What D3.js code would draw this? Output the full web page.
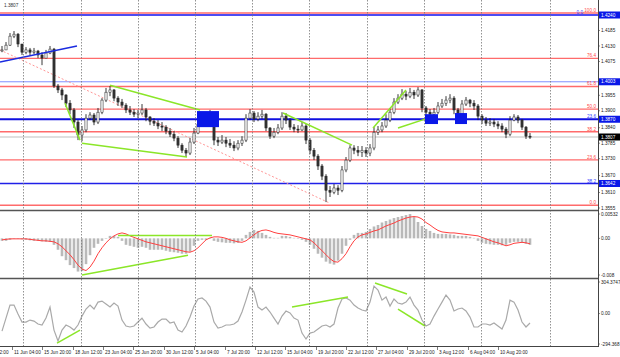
<!DOCTYPE html>
<html><head><meta charset="utf-8">
<script src="https://cdn.jsdelivr.net/npm/d3@7"></script>
<style>html,body{margin:0;padding:0;background:#fff;overflow:hidden}svg{display:block}text{font-family:"Liberation Sans",Arial,sans-serif}</style>
</head><body><svg id="c" width="620" height="357"></svg>
<script>
// ---------- data ----------
const closes=[1.4116,1.4133,1.4165,1.4172,1.4137,1.4108,1.4116,1.4108,1.4112,1.4098,
1.4087,1.4105,1.4119,1.3988,1.3974,1.3956,1.3927,1.3903,1.3860,1.3814,
1.3832,1.3874,1.3885,1.3860,1.3895,1.3938,1.3966,1.3974,1.3945,1.3931,
1.3920,1.3903,1.3895,1.3888,1.3892,1.3903,1.3878,1.3863,1.3856,1.3846,
1.3842,1.3828,1.3817,1.3803,1.3778,1.3760,1.3750,1.3789,1.3821,1.3853,
1.3867,1.3874,1.3881,1.3796,1.3789,1.3796,1.3785,1.3778,1.3768,1.3785,
1.3796,1.3874,1.3892,1.3871,1.3881,1.3888,1.3839,1.3810,1.3824,1.3839,
1.3881,1.3867,1.3842,1.3835,1.3832,1.3846,1.3796,1.3760,1.3739,1.3704,
1.3668,1.3618,1.3611,1.3626,1.3618,1.3690,1.3725,1.3768,1.3760,1.3753,
1.3760,1.3750,1.3768,1.3824,1.3832,1.3846,1.3867,1.3895,1.3931,1.3945,
1.3959,1.3952,1.3966,1.3956,1.3974,1.3910,1.3895,1.3888,1.3895,1.3917,
1.3927,1.3938,1.3945,1.3903,1.3881,1.3924,1.3938,1.3927,1.3917,1.3881,
1.3867,1.3856,1.3860,1.3853,1.3846,1.3835,1.3817,1.3867,1.3878,1.3867,
1.3842,1.3810,1.3807];
const highs=[1.4130,1.4144,1.4176,1.4183,1.4176,1.4137,1.4126,1.4123,1.4123,1.4116,
1.4108,1.4116,1.4130,1.4123,1.3995,1.3981,1.3959,1.3938,1.3910,1.3867,
1.3846,1.3888,1.3895,1.3892,1.3910,1.3945,1.3981,1.3988,1.3977,1.3952,
1.3942,1.3927,1.3917,1.3906,1.3903,1.3924,1.3910,1.3881,1.3874,1.3867,
1.3860,1.3849,1.3839,1.3828,1.3810,1.3785,1.3768,1.3803,1.3839,1.3867,
1.3888,1.3892,1.3903,1.3888,1.3807,1.3814,1.3807,1.3800,1.3792,1.3796,
1.3810,1.3888,1.3906,1.3899,1.3895,1.3903,1.3892,1.3842,1.3839,1.3853,
1.3895,1.3892,1.3874,1.3853,1.3849,1.3860,1.3853,1.3803,1.3768,1.3746,
1.3711,1.3675,1.3633,1.3640,1.3636,1.3704,1.3736,1.3778,1.3778,1.3775,
1.3775,1.3771,1.3782,1.3842,1.3846,1.3860,1.3888,1.3910,1.3945,1.3959,
1.3977,1.3970,1.3981,1.3974,1.3984,1.3977,1.3917,1.3906,1.3910,1.3931,
1.3942,1.3952,1.3959,1.3952,1.3910,1.3938,1.3949,1.3942,1.3938,1.3924,
1.3888,1.3878,1.3874,1.3871,1.3863,1.3856,1.3842,1.3881,1.3888,1.3885,
1.3871,1.3846,1.3821];
const lows=[1.4108,1.4116,1.4130,1.4158,1.4126,1.4098,1.4101,1.4098,1.4101,1.4087,
1.4062,1.4087,1.4101,1.3981,1.3963,1.3938,1.3913,1.3888,1.3839,1.3796,
1.3792,1.3824,1.3867,1.3849,1.3853,1.3888,1.3931,1.3952,1.3934,1.3917,
1.3910,1.3892,1.3885,1.3878,1.3874,1.3885,1.3863,1.3849,1.3846,1.3835,
1.3828,1.3817,1.3807,1.3792,1.3768,1.3750,1.3736,1.3743,1.3782,1.3817,
1.3849,1.3856,1.3863,1.3778,1.3775,1.3782,1.3771,1.3768,1.3757,1.3760,
1.3775,1.3789,1.3867,1.3860,1.3863,1.3871,1.3828,1.3800,1.3803,1.3817,
1.3832,1.3853,1.3832,1.3824,1.3821,1.3828,1.3782,1.3746,1.3725,1.3690,
1.3654,1.3576,1.3594,1.3604,1.3601,1.3611,1.3682,1.3718,1.3746,1.3739,
1.3736,1.3736,1.3739,1.3760,1.3814,1.3824,1.3839,1.3860,1.3888,1.3924,
1.3938,1.3938,1.3945,1.3942,1.3949,1.3895,1.3881,1.3874,1.3878,1.3888,
1.3910,1.3917,1.3927,1.3888,1.3867,1.3874,1.3917,1.3913,1.3903,1.3867,
1.3853,1.3846,1.3846,1.3842,1.3835,1.3824,1.3803,1.3810,1.3863,1.3856,
1.3832,1.3800,1.3800];
const macdHist=[-0.0005,-0.0005,-0.0003,-0.0001,-0.0001,-0.0002,-0.0003,-0.0004,-0.0005,-0.0005,
-0.0006,-0.0007,-0.0007,-0.0013,-0.0023,-0.0036,-0.0044,-0.0054,-0.0060,-0.0067,
-0.0066,-0.0052,-0.0034,-0.0019,-0.0011,-0.0005,-0.0001,0.0005,0.0005,0.0003,
-0.0005,-0.0013,-0.0015,-0.0017,-0.0019,-0.0017,-0.0019,-0.0023,-0.0023,-0.0023,
-0.0023,-0.0025,-0.0027,-0.0028,-0.0029,-0.0031,-0.0031,-0.0027,-0.0015,-0.0005,
-0.0003,-0.0003,-0.0001,-0.0005,-0.0007,-0.0008,-0.0009,-0.0009,-0.0010,-0.0009,
-0.0005,0.0007,0.0013,0.0017,0.0015,0.0011,0.0007,0.0003,0.0001,0.0001,
0.0005,0.0005,0.0003,0.0001,-0.0001,-0.0003,-0.0007,-0.0013,-0.0021,-0.0031,
-0.0039,-0.0047,-0.0051,-0.0053,-0.0045,-0.0031,-0.0015,-0.0003,0.0007,0.0011,
0.0011,0.0013,0.0019,0.0024,0.0027,0.0032,0.0035,0.0038,0.0041,0.0043,
0.0045,0.0047,0.0049,0.0043,0.0033,0.0025,0.0019,0.0015,0.0011,0.0009,
0.0009,0.0009,0.0008,0.0007,0.0005,0.0005,0.0005,0.0003,0.0001,-0.0005,
-0.0009,-0.0011,-0.0012,-0.0013,-0.0013,-0.0014,-0.0013,-0.0009,-0.0007,-0.0007,
-0.0009,-0.0011,-0.0013];
const macdSignal=[-0.0003,-0.0002,-0.0001,-0.0001,-0.0001,-0.0001,-0.0001,-0.0002,-0.0003,-0.0004,
-0.0005,-0.0005,-0.0006,-0.0007,-0.0011,-0.0017,-0.0025,-0.0033,-0.0043,-0.0054,
-0.0062,-0.0065,-0.0058,-0.0046,-0.0031,-0.0019,-0.0009,-0.0001,0.0005,0.0009,
0.0011,0.0009,0.0005,0.0002,-0.0001,-0.0004,-0.0007,-0.0009,-0.0011,-0.0013,
-0.0015,-0.0017,-0.0019,-0.0021,-0.0023,-0.0025,-0.0027,-0.0028,-0.0025,-0.0019,
-0.0011,-0.0003,0.0001,0.0003,0.0003,0.0002,0.0000,-0.0003,-0.0005,-0.0007,
-0.0008,-0.0005,0.0001,0.0007,0.0013,0.0016,0.0017,0.0015,0.0012,0.0010,
0.0009,0.0008,0.0007,0.0005,0.0003,0.0001,-0.0001,-0.0003,-0.0009,-0.0017,
-0.0025,-0.0033,-0.0041,-0.0047,-0.0048,-0.0041,-0.0031,-0.0017,-0.0005,0.0003,
0.0007,0.0009,0.0012,0.0015,0.0017,0.0021,0.0025,0.0028,0.0031,0.0035,
0.0038,0.0041,0.0043,0.0044,0.0043,0.0039,0.0032,0.0027,0.0021,0.0016,
0.0013,0.0012,0.0011,0.0011,0.0010,0.0009,0.0008,0.0007,0.0006,0.0005,
0.0002,-0.0001,-0.0004,-0.0007,-0.0009,-0.0012,-0.0015,-0.0013,-0.0010,-0.0009,
-0.0008,-0.0009,-0.0011];
const cci=[-159,-41,77,77,-5,-77,-77,-59,-68,-95,
-104,-41,59,-150,-249,-150,-104,-122,-150,-104,
-23,41,77,41,104,113,86,59,95,68,
-59,-113,-122,-113,-77,-41,-95,-132,-122,-77,
-50,-50,-86,-77,-150,-168,-113,-32,68,132,
141,113,59,-77,-132,-122,-104,-104,-95,-68,
14,122,240,195,59,32,59,14,-41,-95,
-23,23,5,-41,-59,-177,-231,-177,-168,-141,
-113,-104,-122,-95,50,132,141,122,77,50,
32,23,104,249,213,122,150,68,132,95,
86,104,150,77,32,-59,-113,-95,-23,41,
104,168,122,23,41,50,23,-32,-122,-122,
-95,-95,-104,-86,-113,-141,-59,122,104,32,
-77,-122,-86];

const priceTicks=[1.4185,1.4130,1.4075,1.3955,1.3900,1.3840,1.3785,1.3730,1.3670,1.3610,1.3555];
const levelLines=[1.4240,1.4003,1.3870,1.3642];
const lastPrice=1.3807;
const fibLow=1.3565, fibHigh=1.4247;
const fibLevels=[0,23.6,38.2,50,61.8,76.4,100];
const blueFibBase=1.4240, blueFibRange=0.1568;
const blueFibLevels=[0,23.6,38.2];
const macdTicks=[0.00532,0,-0.008];
const macdTickLabels=["0.00532","0.00","-0.008"];
const cciTicks=[304.3747,0,-294.368];
const cciTickLabels=["304.3747","0.00","-294.368"];
const gridIdx=[5.25,19.75,34,48.25,62.5,76.75,91.25,105.5,119.75,137];
const timeLabels=["8 Jun 12:00","11 Jun 04:00","15 Jun 20:00","18 Jun 12:00","23 Jun 04:00","25 Jun 20:00","30 Jun 12:00","5 Jul 04:00","7 Jul 20:00","12 Jul 12:00","15 Jul 04:00","19 Jul 20:00","22 Jul 12:00","27 Jul 04:00","29 Jul 20:00","3 Aug 12:00","6 Aug 04:00","10 Aug 20:00"];
const timeIdx=[-5,2.5,10,17.75,25.25,32.75,40.5,48,55.75,63.25,70.75,78.5,86,93.5,101.25,108.75,116.5,124];
// annotations: [idx1, value1, idx2, value2]
const blueTrend=[-0.5,1.4073,18.75,1.4130];
const pinkTrend=[-0.5,1.4116,82,1.3572];
const greenPrice=[[15.75,1.3927,19.5,1.3796],[20,1.3785,46.25,1.3736],[27,1.3991,49.5,1.3903],[70.25,1.3892,87.5,1.3778],[92.75,1.3839,101,1.3974],[99,1.3839,106.5,1.3874]];
const blueBoxes=[[48.75,1.3899,54.25,1.3842],[105.75,1.3888,109,1.3853],[113.25,1.3892,116.25,1.3853]];
const greenMacd=[[20,-0.0074,46.5,-0.0034],[29,0.0006,52.5,0.0006]];
const greenCci=[[13.75,-268,19.5,-150],[72.5,59,86.5,150],[93.25,277,101.25,177],[99,41,105.75,-113]];

// ---------- scales ----------
const svg=d3.select("#c");
const RX=598;
const x=d3.scaleLinear().domain([0,132]).range([2,530]);
const yP=d3.scaleLinear().domain([1.3555,1.4240]).range([208,15]);
const yM=d3.scaleLinear().domain([-0.008,0.00532]).range([278,212]);
const yC=d3.scaleLinear().domain([-294.368,304.3747]).range([346,280]);
const FS=4.7;

svg.append("rect").attr("width",620).attr("height",357).attr("fill","#fff");
const defs=svg.append("defs");
[["cm",0,0,RX,210],["cd",0,211,RX,67],["cc",0,279,RX,67]].forEach(d=>{
  defs.append("clipPath").attr("id",d[0]).append("rect").attr("x",d[1]).attr("y",d[2]).attr("width",d[3]).attr("height",d[4]);
});
const gM=svg.append("g").attr("clip-path","url(#cm)");
const gD=svg.append("g").attr("clip-path","url(#cd)");
const gC=svg.append("g").attr("clip-path","url(#cc)");

// vertical grid
svg.append("g").selectAll("line").data(gridIdx).join("line")
  .attr("x1",d=>Math.round(x(d))+0.5).attr("x2",d=>Math.round(x(d))+0.5)
  .attr("y1",0).attr("y2",346).attr("stroke","#777").attr("stroke-width",0.8).attr("stroke-dasharray","1.5,1.5");

// fib lines (red)
const fibP=l=>fibLow+(fibHigh-fibLow)*l/100;
gM.selectAll(".fib").data(fibLevels).join("line")
  .attr("x1",0).attr("x2",RX).attr("y1",d=>yP(fibP(d))).attr("y2",d=>yP(fibP(d)))
  .attr("stroke","#ff6b6b").attr("stroke-width",1.4);
// current price line
gM.append("line").attr("x1",0).attr("x2",RX).attr("y1",yP(lastPrice)).attr("y2",yP(lastPrice))
  .attr("stroke","#d4d4d4").attr("stroke-width",1.5);
// level lines (blue)
const levelColor=["#1010f0","#8090ff","#1010e0","#2020e8"];
const levelWidth=[1.4,1,1.8,1.4];
gM.selectAll(".lvl").data(levelLines).join("line")
  .attr("x1",0).attr("x2",RX).attr("y1",d=>yP(d)).attr("y2",d=>yP(d))
  .attr("stroke",(d,i)=>levelColor[i]).attr("stroke-width",(d,i)=>levelWidth[i]);

// pink dotted trend
gM.append("line").attr("x1",x(pinkTrend[0])).attr("y1",yP(pinkTrend[1])).attr("x2",x(pinkTrend[2])).attr("y2",yP(pinkTrend[3]))
  .attr("stroke","#ff8a8a").attr("stroke-width",0.9).attr("stroke-dasharray","2,2");

// candles
const bars=closes.map((c,i)=>({i,o:i>0?closes[i-1]:closes[0],c,h:highs[i],l:lows[i]}));
const cg=gM.append("g");
cg.selectAll(".w").data(bars).join("line")
  .attr("x1",d=>x(d.i)).attr("x2",d=>x(d.i)).attr("y1",d=>yP(d.h)).attr("y2",d=>yP(d.l))
  .attr("stroke","#222").attr("stroke-width",0.9);
cg.selectAll(".b").data(bars).join("rect")
  .attr("x",d=>x(d.i)-1.1).attr("width",2.2)
  .attr("y",d=>yP(Math.max(d.o,d.c))).attr("height",d=>Math.max(1,Math.abs(yP(d.o)-yP(d.c))))
  .attr("fill",d=>d.c>=d.o?"#f4f4f4":"#333").attr("stroke","#222").attr("stroke-width",0.5);

// blue trend line
gM.append("line").attr("x1",x(blueTrend[0])).attr("y1",yP(blueTrend[1])).attr("x2",x(blueTrend[2])).attr("y2",yP(blueTrend[3]))
  .attr("stroke","#1a2be0").attr("stroke-width",1.6);
// green lines
gM.selectAll(".g").data(greenPrice).join("line")
  .attr("x1",d=>x(d[0])).attr("y1",d=>yP(d[1])).attr("x2",d=>x(d[2])).attr("y2",d=>yP(d[3]))
  .attr("stroke","#8be628").attr("stroke-width",1.5);
// blue boxes
gM.selectAll(".bx").data(blueBoxes).join("rect")
  .attr("x",d=>x(d[0])).attr("y",d=>yP(d[1])).attr("width",d=>x(d[2])-x(d[0])).attr("height",d=>yP(d[3])-yP(d[1]))
  .attr("fill","#0a18e8");

// fib labels
svg.selectAll(".fl").data(fibLevels).join("text")
  .attr("x",RX-2).attr("y",d=>yP(fibP(d))-1.2).attr("text-anchor","end")
  .attr("font-size",FS).attr("fill","#ff4a4a").text(d=>d.toFixed(1));
svg.selectAll(".bfl").data(blueFibLevels).join("text")
  .attr("x",(d,i)=>i===0?RX-15:RX-2).attr("y",d=>yP(blueFibBase-blueFibRange*d/100)-1.2).attr("text-anchor","end")
  .attr("font-size",FS).attr("fill","#3040ff").text(d=>d.toFixed(1));

// ---------- MACD ----------
gD.selectAll("rect").data(macdHist).join("rect")
  .attr("x",(d,i)=>x(i)-1.3).attr("width",2.6)
  .attr("y",d=>Math.min(yM(0),yM(d))).attr("height",d=>Math.abs(yM(d)-yM(0)))
  .attr("fill","#b9b9b9");
gD.append("path").datum(macdSignal)
  .attr("d",d3.line().x((d,i)=>x(i)).y(d=>yM(d)))
  .attr("fill","none").attr("stroke","#ff4040").attr("stroke-width",1);
gD.selectAll(".gm").data(greenMacd).join("line")
  .attr("x1",d=>x(d[0])).attr("y1",d=>yM(d[1])).attr("x2",d=>x(d[2])).attr("y2",d=>yM(d[3]))
  .attr("stroke","#8be628").attr("stroke-width",1.5);

// ---------- CCI ----------
gC.append("path").datum(cci)
  .attr("d",d3.line().x((d,i)=>x(i)).y(d=>yC(d)))
  .attr("fill","none").attr("stroke","#a9a9a9").attr("stroke-width",1.2);
gC.selectAll(".gc").data(greenCci).join("line")
  .attr("x1",d=>x(d[0])).attr("y1",d=>yC(d[1])).attr("x2",d=>x(d[2])).attr("y2",d=>yC(d[3]))
  .attr("stroke","#8be628").attr("stroke-width",1.5);

// ---------- frame ----------
[210.5,278.5].forEach(y=>svg.append("line").attr("x1",0).attr("x2",RX).attr("y1",y).attr("y2",y).attr("stroke","#555").attr("stroke-width",1.6));
svg.append("line").attr("x1",0).attr("x2",RX).attr("y1",346.5).attr("y2",346.5).attr("stroke","#444").attr("stroke-width",1);
svg.append("line").attr("x1",RX+0.5).attr("x2",RX+0.5).attr("y1",0).attr("y2",347).attr("stroke","#444").attr("stroke-width",1);

// ---------- right axis ----------
const ra=svg.append("g");
function rlabel(y,t){
  ra.append("line").attr("x1",RX).attr("x2",RX+2).attr("y1",y).attr("y2",y).attr("stroke","#444").attr("stroke-width",0.6);
  ra.append("text").attr("x",RX+3).attr("y",y).attr("dy","0.35em").attr("font-size",FS).attr("fill","#222").text(t);
}
priceTicks.forEach(p=>rlabel(yP(p),d3.format(".4f")(p)));
function rbox(y,t,fill){
  ra.append("rect").attr("x",RX+1).attr("y",y-3.5).attr("width",21).attr("height",7).attr("fill",fill);
  ra.append("text").attr("x",RX+3).attr("y",y).attr("dy","0.35em").attr("font-size",FS).attr("fill","#fff").text(t);
}
levelLines.forEach(p=>rbox(yP(p),d3.format(".4f")(p),"#0a18e8"));
rbox(yP(lastPrice),d3.format(".4f")(lastPrice),"#000");
macdTicks.forEach((v,i)=>rlabel(yM(v)+(i===0?2:i===2?-3:0),macdTickLabels[i]));
cciTicks.forEach((v,i)=>rlabel(yC(v)+(i===0?2:i===2?-2:0),cciTickLabels[i]));

// ---------- time axis ----------
const ta=svg.append("g");
timeLabels.forEach((t,k)=>{
  const xx=Math.round(x(timeIdx[k]))+0.5;
  ta.append("line").attr("x1",xx).attr("x2",xx).attr("y1",347).attr("y2",350).attr("stroke","#444").attr("stroke-width",0.7);
  ta.append("text").attr("x",xx+1.5).attr("y",353.5).attr("font-size",FS).attr("fill","#222").text(t);
});

// title
svg.append("text").attr("x",4).attr("y",7).attr("font-size",FS).attr("fill","#333").text("1.3807");
</script></body></html>
